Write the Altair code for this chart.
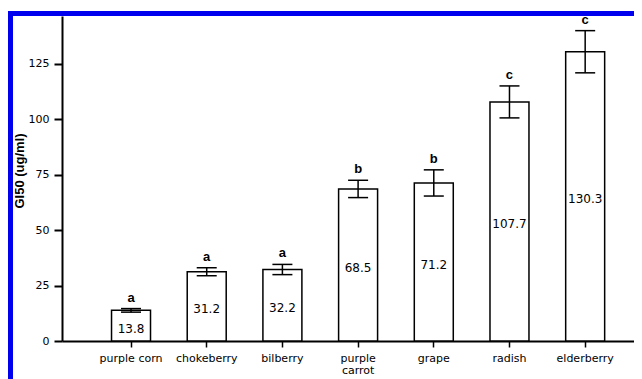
import altair as alt
import pandas as pd

categories = ["purple corn", "chokeberry", "bilberry", "purple carrot", "grape", "radish", "elderberry"]
means = [13.8, 31.2, 32.2, 68.5, 71.2, 107.7, 130.3]
errors = [0.8, 1.8, 2.3, 3.9, 5.9, 7.2, 9.5]
letters = ["a", "a", "a", "b", "b", "c", "c"]
value_labels = ["13.8", "31.2", "32.2", "68.5", "71.2", "107.7", "130.3"]
y_ticks = [0, 25, 50, 75, 100, 125]

df = pd.DataFrame({
    "cat": categories,
    "mean": means,
    "err": errors,
    "letter": letters,
    "vlabel": value_labels,
})
df["lo"] = df["mean"] - df["err"]
df["hi"] = df["mean"] + df["err"]
df["mid"] = df["mean"] / 2

W, H = 572, 325

xscale = alt.Scale(paddingInner=0.485, paddingOuter=0.521, align=0.628)
x = alt.X("cat:N", sort=categories, scale=xscale, title=None,
          axis=alt.Axis(labelAngle=0, domainWidth=2, domainColor="black",
                        tickSize=6, tickWidth=1.5, tickColor="black",
                        labelFont="DejaVu Sans", labelFontSize=11, labelColor="black",
                        labelPadding=5, labelLineHeight=12, labelBaseline="top",
                        labelExpr="datum.label == 'purple carrot' ? ['purple', 'carrot'] : datum.label"))
yscale = alt.Scale(domain=[0, 146.4], nice=False, zero=True)

base = alt.Chart(df)

bars = base.mark_bar(fill="white", stroke="black", strokeWidth=1.5).encode(
    x=x,
    y=alt.Y("mean:Q", scale=yscale, title="GI50 (ug/ml)",
            axis=alt.Axis(values=y_ticks, grid=False, domainWidth=2, domainColor="black",
                          tickSize=8, tickWidth=2, tickColor="black",
                          labelFont="DejaVu Sans", labelFontSize=11, labelColor="black",
                          labelPadding=5,
                          titleFont="Liberation Sans", titleFontSize=13, titleFontWeight="bold",
                          titleColor="black", titleX=-43, titleY=H / 2 - 8, titleAngle=270,
                          titleAlign="center", titleBaseline="middle")),
)

err_rule = base.mark_rule(color="black", strokeWidth=1.5).encode(
    x=alt.X("cat:N", sort=categories, scale=xscale),
    y=alt.Y("lo:Q", scale=yscale),
    y2="hi:Q",
)
cap_hi = base.mark_tick(color="black", size=20, thickness=1.5, opacity=1).encode(
    x=alt.X("cat:N", sort=categories, scale=xscale),
    y=alt.Y("hi:Q", scale=yscale),
)
cap_lo = base.mark_tick(color="black", size=20, thickness=1.5, opacity=1).encode(
    x=alt.X("cat:N", sort=categories, scale=xscale),
    y=alt.Y("lo:Q", scale=yscale),
)

vals = base.mark_text(font="DejaVu Sans", fontSize=12, color="black",
                      baseline="middle", dy=3).encode(
    x=alt.X("cat:N", sort=categories, scale=xscale),
    y=alt.Y("mid:Q", scale=yscale),
    text="vlabel:N",
)

lets = base.mark_text(font="Liberation Sans", fontSize=13, fontWeight="bold", color="black",
                      baseline="alphabetic", dy=-7).encode(
    x=alt.X("cat:N", sort=categories, scale=xscale),
    y=alt.Y("hi:Q", scale=yscale),
    text="letter:N",
)

border_top = alt.Chart(pd.DataFrame({"k": [0]})).mark_rule(color="#0000ee", strokeWidth=5).encode(
    x=alt.value(-54), x2=alt.value(W + 10), y=alt.value(-2.5))
border_left = alt.Chart(pd.DataFrame({"k": [0]})).mark_rule(color="#0000ee", strokeWidth=5).encode(
    x=alt.value(-51.5), y=alt.value(-5), y2=alt.value(H + 40))

chart = alt.layer(bars, err_rule, cap_hi, cap_lo, vals, lets, border_top, border_left).properties(
    width=W, height=H,
    autosize=alt.AutoSizeParams(type="none"),
    padding={"left": 54, "top": 8, "right": 0, "bottom": 38},
    background="white",
).configure_view(stroke=None)

chart.save("out.html", embed_options={"renderer": "svg", "actions": False})
